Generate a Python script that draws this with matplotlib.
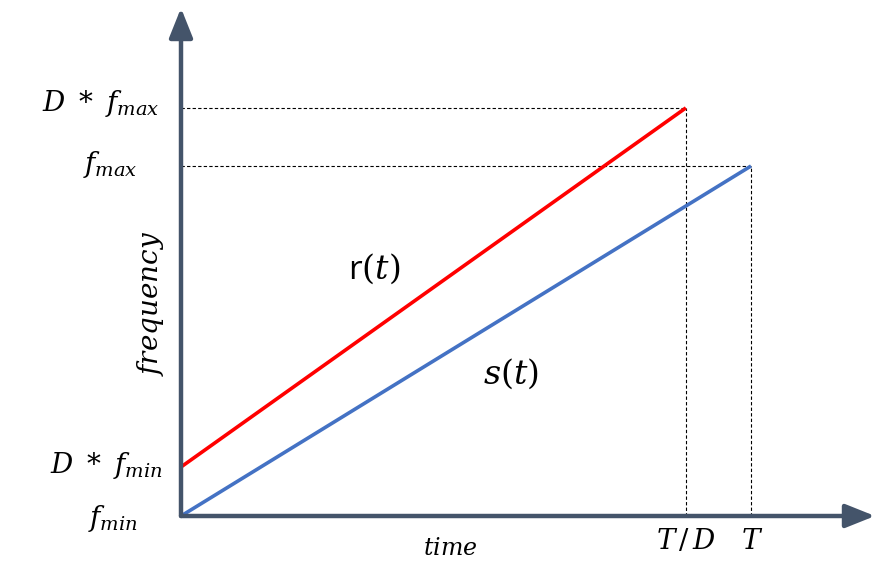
import numpy as np
import matplotlib
matplotlib.use('Agg')
import matplotlib.pyplot as plt

plt.rcParams['mathtext.fontset'] = 'dejavuserif'

# schematic values (arbitrary units): time of sweep end, frequencies
T = 1.0
D = 1.129
t_s = [0.0, T]
f_s = [0.0, 1.0]
t_r = [0.0, T / D]
f_r = [0.14, 1.166]

axis_col = '#44546A'
red = '#FF0000'
blue = '#4472C4'

fig = plt.figure(figsize=(8.89, 5.64), dpi=100)
ax = fig.add_axes([181 / 889, 48 / 564, 694 / 889, 508 / 564])
ax.set_xlim(0, 694 / 570)
ax.set_ylim(0, 508 / 350)
ax.axis('off')

# axes with arrow heads
arrow = dict(arrowstyle='-|>,head_length=0.6,head_width=0.24', lw=3.2, color=axis_col,
             mutation_scale=30, shrinkA=0, shrinkB=0)
ax.annotate('', xy=(1, 0), xytext=(0, 0), xycoords='axes fraction', arrowprops=arrow)
ax.annotate('', xy=(0, 1), xytext=(0, 0), xycoords='axes fraction', arrowprops=arrow)

# dashed guides
dash = dict(color='black', lw=0.8, dashes=(3, 2))
ax.plot([0, t_r[1]], [f_r[1], f_r[1]], **dash)
ax.plot([t_r[1], t_r[1]], [0, f_r[1]], **dash)
ax.plot([0, t_s[1]], [f_s[1], f_s[1]], **dash)
ax.plot([t_s[1], t_s[1]], [0, f_s[1]], **dash)

ax.plot(t_r, f_r, color=red, lw=2.6, solid_capstyle='butt')
ax.plot(t_s, f_s, color=blue, lw=2.6, solid_capstyle='butt')

# y labels
fs = 20
ylabels = [(r'$D\ *\ f_{max}$', f_r[1], 57.6, 3),
           (r'$f_{max}$', f_s[1], 51, 1),
           (r'$D\ *\ f_{min}$', f_r[0], 54, 1),
           (r'$f_{min}$', f_s[0], 49, -2)]
for txt, yv, off, dy in ylabels:
    ax.annotate(txt, xy=(0, yv), xytext=(-off, dy), textcoords='offset points',
                ha='center', va='center', fontsize=fs, annotation_clip=False)

# x labels
ax.annotate(r'$T\,/\,D$', xy=(t_r[1], 0), xytext=(0, -18), textcoords='offset points',
            ha='center', va='center', fontsize=fs, annotation_clip=False)
ax.annotate(r'$T$', xy=(t_s[1], 0), xytext=(1, -18), textcoords='offset points',
            ha='center', va='center', fontsize=fs, annotation_clip=False)

ax.text(269 / 570, -32 / 350, r'$time$', ha='center', va='center', fontsize=17, clip_on=False)
ax.text(-31 / 570, 213 / 350, r'$frequency$', ha='center', va='center', fontsize=20,
        rotation=90, clip_on=False)

ax.text(193 / 570, 247 / 350, r'r$(t)$', ha='center', va='center', fontsize=24,
        family='Open Sans')
ax.text(330 / 570, 142 / 350, r'$s(t)$', ha='center', va='center', fontsize=24)

fig.savefig('out.png', dpi=100)
